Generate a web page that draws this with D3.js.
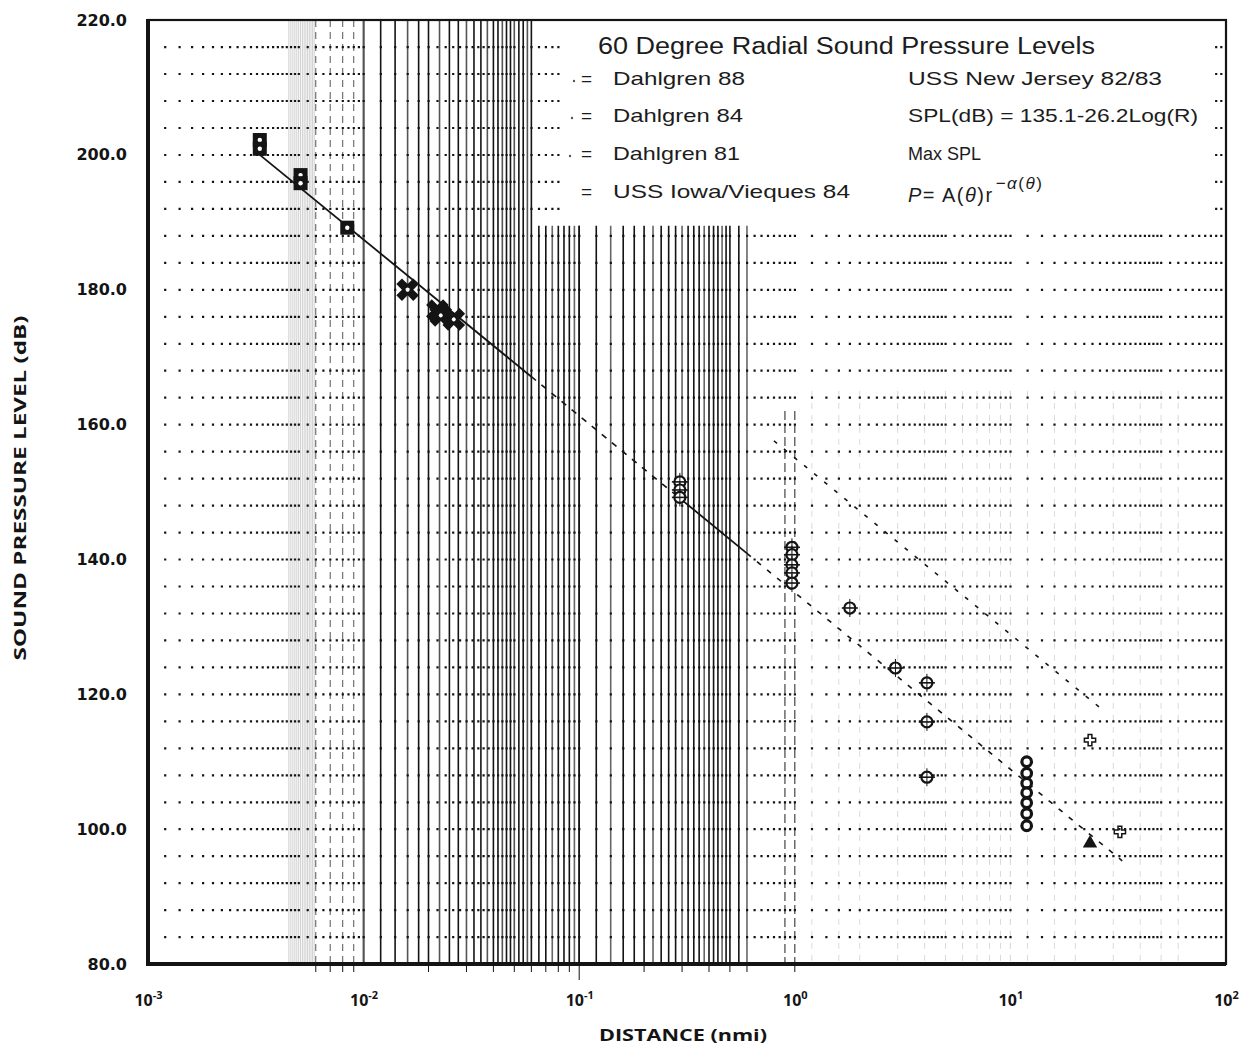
<!DOCTYPE html>
<html>
<head>
<meta charset="utf-8">
<script src="https://cdn.jsdelivr.net/npm/d3@7"></script>
<style>
  body { margin: 0; background: #fff; }
  svg { display: block; }
</style>
</head>
<body>
<svg id="chart" width="1251" height="1053"></svg>
<script>
// values (distance nmi, SPL dB)
const dahlgren88 = [[0.0033, 202.2], [0.0033, 200.9], [0.0051, 197.0], [0.0051, 195.8], [0.0084, 189.2]];
const dahlgren84 = [[0.0160, 180.0], [0.0220, 176.9], [0.0228, 176.2], [0.0262, 175.6]];
const dahlgren81 = [[0.293, 151.5], [0.293, 150.3], [0.293, 149.2], [0.97, 141.8], [0.97, 140.7], [0.97, 139.2],
                    [0.97, 138.0], [0.97, 136.5], [1.8, 132.8], [2.93, 123.9], [4.1, 121.7], [4.1, 115.9], [4.1, 107.7]];
const iowaVieques84 = [[11.9, 110.0], [11.9, 108.3], [11.9, 106.8], [11.9, 105.4], [11.9, 103.9], [11.9, 102.3], [11.9, 100.5]];
const viequesTriangle = [[23.4, 97.9]];
const otherMarks = [[32.2, 99.6], [23.4, 113.2]];

// SPL(dB) = 135.1-26.2Log(R) fit, drawn piecewise (solid / dashed)
const fitSolid1 = [[0.0033, 200.0], [0.06, 167.1]];
const fitDash1 = [[0.06, 167.1], [0.3, 148.8]];
const fitSolid2 = [[0.3, 148.8], [0.6, 140.9]];
const fitDash2 = [[0.6, 140.9], [33, 95.3]];
const maxSplLine = [[0.8, 157.6], [27, 117.6]];

const yTicks = [80, 100, 120, 140, 160, 180, 200, 220];
const xDecades = [-3, -2, -1, 0, 1, 2];

const legendLeft = ["Dahlgren 88", "Dahlgren 84", "Dahlgren 81", "USS Iowa/Vieques 84"];
const legendRight = ["USS New Jersey 82/83", "SPL(dB) = 135.1-26.2Log(R)", "Max SPL"];

const margin = {left: 148, top: 20, right: 25, bottom: 89};
const W = 1251, H = 1053;
const svg = d3.select("#chart");

const x = d3.scaleLog().domain([1e-3, 1e2]).range([margin.left, W - margin.right]);
const y = d3.scaleLinear().domain([80, 220]).range([H - margin.bottom, margin.top]);
const ink = "#141414";

// ---- vertical grid ----
function mantissaLines(lo, hi, step) {
  const out = [];
  for (let k = -3; k <= 1; k++) {
    const base = Math.pow(10, k);
    d3.range(1, 10.0001, step).forEach(m => {
      const v = +(m * base).toPrecision(6);
      if (v > lo * 0.9999 && v < hi * 1.0001) out.push(v);
    });
  }
  return out;
}

const grid = svg.append("g");

// faint band just left of 10^-2
grid.selectAll(".band")
  .data(mantissaLines(0.0045, 0.0059, 0.1))
  .enter().append("line")
  .attr("x1", d => x(d)).attr("x2", d => x(d))
  .attr("y1", y(220)).attr("y2", y(80))
  .attr("stroke", "#cfcfcf").attr("stroke-width", 1);

grid.selectAll(".preDec")
  .data([0.006, 0.007, 0.008, 0.009])
  .enter().append("line")
  .attr("x1", d => x(d)).attr("x2", d => x(d))
  .attr("y1", y(220)).attr("y2", y(80))
  .attr("stroke", "#555").attr("stroke-width", 1)
  .attr("stroke-dasharray", "7,5");

// dense lines, full height, 10^-2 .. 6x10^-2
const denseA = [].concat(
  mantissaLines(0.01, 0.02, 0.2),
  mantissaLines(0.0225, 0.04, 0.25),
  mantissaLines(0.042, 0.05, 0.2),
  mantissaLines(0.0525, 0.06, 0.25)
);
grid.selectAll(".denseA")
  .data(denseA)
  .enter().append("line")
  .attr("x1", d => x(d)).attr("x2", d => x(d))
  .attr("y1", y(220)).attr("y2", y(80))
  .attr("stroke", (d, i) => i % 3 === 1 ? "#555" : ink)
  .attr("stroke-width", 1.6);

// dense lines below 189.5 dB, 6x10^-2 .. 6x10^-1
const denseB = [].concat(
  mantissaLines(0.065, 0.1, 0.5),
  mantissaLines(0.12, 0.5, 0.2),
  [0.55, 0.6]
);
grid.selectAll(".denseB")
  .data(denseB)
  .enter().append("line")
  .attr("x1", d => x(d)).attr("x2", d => x(d))
  .attr("y1", y(189.5)).attr("y2", y(80))
  .attr("stroke", (d, i) => i % 4 === 2 ? "#666" : ink)
  .attr("stroke-width", 1.6);

// dashed lines near 10^0
grid.selectAll(".nearOne")
  .data([0.9, 1.0])
  .enter().append("line")
  .attr("x1", d => x(d)).attr("x2", d => x(d))
  .attr("y1", y(162)).attr("y2", y(80))
  .attr("stroke", "#444").attr("stroke-width", 1.2)
  .attr("stroke-dasharray", "9,4");

// faint verticals in the upper decades
grid.selectAll(".faint")
  .data(mantissaLines(1.2, 60, 1).concat([1.2, 1.6, 12, 16]))
  .enter().append("line")
  .attr("x1", d => x(d)).attr("x2", d => x(d))
  .attr("y1", y(165)).attr("y2", y(80))
  .attr("stroke", "#dadada").attr("stroke-width", 1)
  .attr("stroke-dasharray", "6,6");

// ---- horizontal dotted grid (dots at log-spaced positions) ----
const dotXs = [].concat(
  mantissaLines(0.0012, 99, 0.2).filter(v => {
    const m = v / Math.pow(10, Math.floor(Math.log10(v) + 1e-9));
    return m < 5.01;
  }),
  mantissaLines(0.0011, 99, 0.5).filter(v => {
    const m = v / Math.pow(10, Math.floor(Math.log10(v) + 1e-9));
    return m > 5.01;
  })
);
const rows = d3.range(84, 220, 4);
let dotPath = "";
rows.forEach(r => {
  const yy = y(r);
  dotXs.forEach(v => {
    dotPath += `M${(x(v) - 1).toFixed(1)},${(yy - 1).toFixed(1)}h2.2v2.2h-2.2z`;
  });
});
grid.append("path").attr("d", dotPath).attr("fill", ink);

// ---- fit lines ----
const line = d3.line().x(d => x(d[0])).y(d => y(d[1]));
const lines = svg.append("g").attr("fill", "none").attr("stroke", ink);
lines.append("path").attr("d", line(fitSolid1)).attr("stroke-width", 1.8);
lines.append("path").attr("d", line(fitDash1)).attr("stroke-width", 1.6).attr("stroke-dasharray", "6,7");
lines.append("path").attr("d", line(fitSolid2)).attr("stroke-width", 1.8);
lines.append("path").attr("d", line(fitDash2)).attr("stroke-width", 1.6).attr("stroke-dasharray", "5,8");
lines.append("path").attr("d", line(maxSplLine)).attr("stroke-width", 1.6).attr("stroke-dasharray", "4,9");

// ---- markers ----
const marks = svg.append("g");

marks.selectAll(".d88").data(dahlgren88).enter().append("g")
  .attr("transform", d => `translate(${x(d[0])},${y(d[1])})`)
  .each(function() {
    const g = d3.select(this);
    g.append("rect").attr("x", -7).attr("y", -7).attr("width", 14).attr("height", 14).attr("fill", ink);
    g.append("circle").attr("r", 2.2).attr("fill", "#fff");
  });

marks.selectAll(".d84").data(dahlgren84).enter().append("g")
  .attr("transform", d => `translate(${x(d[0])},${y(d[1])}) rotate(45)`)
  .each(function() {
    const g = d3.select(this);
    g.append("path").attr("d", d3.symbol(d3.symbolCross, 320)()).attr("fill", ink);
    g.append("circle").attr("r", 2).attr("fill", "#fff");
  });

marks.selectAll(".d81").data(dahlgren81).enter().append("g")
  .attr("transform", d => `translate(${x(d[0])},${y(d[1])})`)
  .each(function() {
    const g = d3.select(this);
    g.append("circle").attr("r", 5.5).attr("fill", "#fff").attr("stroke", ink).attr("stroke-width", 2.2);
    g.append("line").attr("x1", -8).attr("x2", 8).attr("stroke", ink).attr("stroke-width", 1.6);
    g.append("line").attr("y1", -9).attr("y2", 9).attr("stroke", ink).attr("stroke-width", 1);
  });

marks.selectAll(".iowa").data(iowaVieques84).enter().append("circle")
  .attr("cx", d => x(d[0])).attr("cy", d => y(d[1]))
  .attr("r", 4.8).attr("fill", "#fff").attr("stroke", ink).attr("stroke-width", 3.2);

marks.selectAll(".tri").data(viequesTriangle).enter().append("path")
  .attr("transform", d => `translate(${x(d[0])},${y(d[1])})`)
  .attr("d", d3.symbol(d3.symbolTriangle, 90)()).attr("fill", ink);

marks.selectAll(".other").data(otherMarks).enter().append("path")
  .attr("transform", d => `translate(${x(d[0])},${y(d[1])})`)
  .attr("d", d3.symbol(d3.symbolCross, 70)()).attr("fill", "none")
  .attr("stroke", ink).attr("stroke-width", 1.5);

// ---- frame ----
const frame = svg.append("g").attr("stroke", ink).attr("fill", "none");
frame.append("rect")
  .attr("x", x(1e-3)).attr("y", y(220))
  .attr("width", x(1e2) - x(1e-3)).attr("height", y(80) - y(220))
  .attr("stroke-width", 2.2);
frame.append("line").attr("x1", x(1e-3)).attr("x2", x(1e-3)).attr("y1", y(220) - 1).attr("y2", y(80) + 2).attr("stroke-width", 4);
frame.append("line").attr("x1", x(1e-3)).attr("x2", x(1e2)).attr("y1", y(80)).attr("y2", y(80)).attr("stroke-width", 4);

// small ticks under the bottom axis
const bottomTicks = [0.006, 0.007, 0.008, 0.009, 0.02, 0.03, 0.04, 0.05, 0.06, 0.07, 0.08, 0.09,
                     0.2, 0.3, 0.4, 0.5, 0.6, 1.0];
frame.selectAll(".bt").data(bottomTicks).enter().append("line")
  .attr("x1", d => x(d)).attr("x2", d => x(d))
  .attr("y1", y(80)).attr("y2", y(80) + 8).attr("stroke-width", 1);
frame.append("line").attr("x1", x(0.1)).attr("x2", x(0.1))
  .attr("y1", y(80)).attr("y2", y(80) + 16).attr("stroke-width", 1);

// ---- axes ----
const yAxis = svg.append("g")
  .attr("transform", `translate(${margin.left},0)`)
  .call(d3.axisLeft(y).tickValues(yTicks).tickSize(0).tickPadding(21).tickFormat(d3.format(".1f")));
yAxis.select(".domain").remove();
yAxis.selectAll("text")
  .attr("font-family", "DejaVu Sans").attr("font-weight", "bold")
  .attr("font-size", 16).attr("fill", ink);

const xAxis = svg.append("g")
  .attr("transform", `translate(0,${y(80)})`)
  .call(d3.axisBottom(x).tickValues(xDecades.map(k => Math.pow(10, k))).tickSize(0).tickFormat(""));
xAxis.select(".domain").remove();
xAxis.selectAll(".tick").each(function(d, i) {
  const t = d3.select(this).append("text")
    .attr("y", 42).attr("text-anchor", "middle")
    .attr("font-family", "Open Sans").attr("font-weight", "bold")
    .attr("font-size", 16).attr("fill", ink);
  t.append("tspan").text("10");
  t.append("tspan").attr("dy", -7).attr("font-size", 11).text(xDecades[i]);
});

svg.append("text")
  .attr("x", 683).attr("y", 1041).attr("text-anchor", "middle")
  .attr("font-family", "Open Sans").attr("font-weight", "bold")
  .attr("font-size", 16).attr("fill", ink)
  .attr("textLength", 168).attr("lengthAdjust", "spacingAndGlyphs")
  .text("DISTANCE (nmi)");

svg.append("text")
  .attr("transform", "translate(26,488) rotate(-90)")
  .attr("text-anchor", "middle")
  .attr("font-family", "Open Sans").attr("font-weight", "bold")
  .attr("font-size", 16).attr("fill", ink)
  .attr("textLength", 345).attr("lengthAdjust", "spacingAndGlyphs")
  .text("SOUND PRESSURE LEVEL (dB)");

// ---- legend / annotations ----
const legend = svg.append("g")
  .attr("font-family", "Liberation Sans").attr("fill", "#1c1c1c");

legend.append("rect").attr("x", 560).attr("y", 24).attr("width", 654).attr("height", 190).attr("fill", "#fff");

legend.append("text").attr("x", 598).attr("y", 54)
  .attr("font-size", 23).attr("textLength", 497).attr("lengthAdjust", "spacingAndGlyphs")
  .text("60 Degree Radial Sound Pressure Levels");

const rowY = [85, 122, 160, 198];
const leftWidths = [132, 130, 127, 237];
legend.selectAll(".eq").data(legendLeft).enter().append("text")
  .attr("x", 581).attr("y", (d, i) => rowY[i]).attr("font-size", 19).text("=");
legend.selectAll(".dot").data(legendLeft.slice(0, 3)).enter().append("circle")
  .attr("cx", (d, i) => 574 - i * 2).attr("cy", (d, i) => rowY[i] - 4).attr("r", 1.2).attr("fill", "#555");
legend.selectAll(".ll").data(legendLeft).enter().append("text")
  .attr("x", 613).attr("y", (d, i) => rowY[i]).attr("font-size", 19)
  .attr("textLength", (d, i) => leftWidths[i]).attr("lengthAdjust", "spacingAndGlyphs")
  .text(d => d);

const rightWidths = [254, 290, null];
legend.selectAll(".rl").data(legendRight).enter().append("text")
  .attr("x", 908).attr("y", (d, i) => rowY[i]).attr("font-size", (d, i) => i === 2 ? 18 : 19)
  .attr("textLength", (d, i) => rightWidths[i])
  .attr("lengthAdjust", (d, i) => rightWidths[i] ? "spacingAndGlyphs" : null)
  .text(d => d);

const formula = legend.append("text").attr("x", 908).attr("y", 202)
  .attr("font-size", 20).attr("letter-spacing", 1.5);
formula.append("tspan").attr("font-style", "italic").text("P");
formula.append("tspan").text("= A(");
formula.append("tspan").attr("font-style", "italic").text("θ");
formula.append("tspan").text(")r");
formula.append("tspan").attr("dy", -13).attr("dx", 2).attr("font-size", 17).text("−");
formula.append("tspan").attr("font-size", 17).attr("font-style", "italic").text("α");
formula.append("tspan").attr("font-size", 17).text("(");
formula.append("tspan").attr("font-size", 17).attr("font-style", "italic").text("θ");
formula.append("tspan").attr("font-size", 17).text(")");
</script>
</body>
</html>
